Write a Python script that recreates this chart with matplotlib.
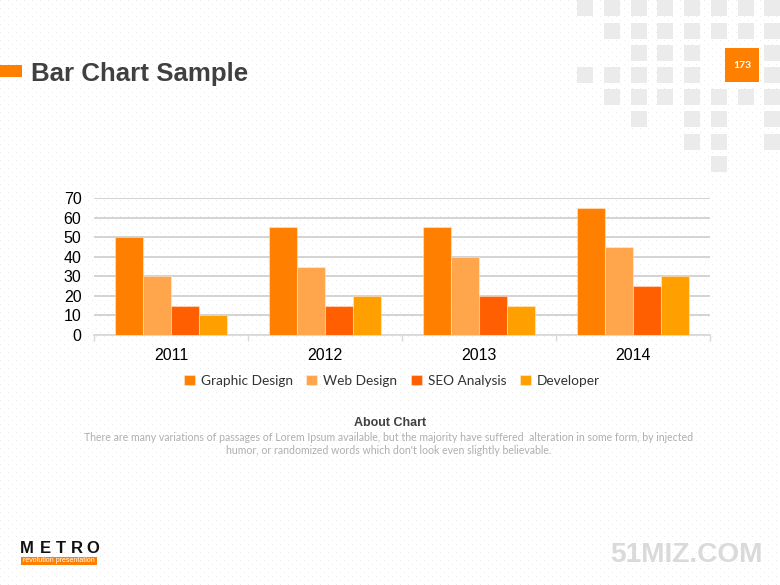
import numpy as np
import matplotlib
matplotlib.use("Agg")
import matplotlib.pyplot as plt
from matplotlib.patches import Rectangle

# ---- data ----
years = ["2011", "2012", "2013", "2014"]
series_names = ["Graphic Design", "Web Design", "SEO Analysis", "Developer"]
graphic_design = [50, 55, 55, 65]
web_design = [30, 35, 40, 45]
seo_analysis = [15, 15, 20, 25]
developer = [10, 20, 15, 30]
y_ticks = [0, 10, 20, 30, 40, 50, 60, 70]
colors = ["#FF8000", "#FFA54C", "#FF5F00", "#FFA000"]

W, H = 780, 585
fig = plt.figure(figsize=(W / 100, H / 100), dpi=100)
fig.patch.set_facecolor("white")

# dotted background texture
bg = np.ones((H, W, 3))
yy, xx = np.mgrid[0:H, 0:W]
mask = ((yy % 8 == 0) & (xx % 8 == 0)) | ((yy % 8 == 4) & (xx % 8 == 4))
bg[mask] = 0.92
fig.figimage(bg, xo=0, yo=0, zorder=0)

def px(x, y):
    return x / W, 1 - y / H

# decorative grey square grid (top-right)
grid_pattern = [
    [0, 1, 2, 3, 4, 5, 6, 7],
    [1, 2, 3, 4, 5, 6, 7],
    [2, 3, 4, 7],
    [0, 1, 2, 3, 4, 7],
    [1, 2, 3, 4, 5, 6, 7],
    [2, 4, 5, 7],
    [4, 5, 7],
    [5],
]
col_x = [577, 604, 631, 657, 684, 711, 738, 764]
row_y = [0, 23, 45, 67, 89, 111, 134, 156]
for r, cols in enumerate(grid_pattern):
    for c in cols:
        x0, y1 = px(col_x[c], row_y[r] + 16)
        fig.add_artist(Rectangle((x0, y1), 16 / W, 16 / H, transform=fig.transFigure,
                                 facecolor="#EBEBEB", edgecolor="none", zorder=1))

# orange page number box
x0, y1 = px(725, 82)
fig.add_artist(Rectangle((x0, y1), 34 / W, 34 / H, transform=fig.transFigure,
                         facecolor="#FF8000", edgecolor="none", zorder=2))
fig.text(*px(742, 66), "173", color="white", fontsize=7.5, fontweight="bold",
         ha="center", va="center", family="Lato", zorder=3)

# title
x0, y1 = px(0, 77)
fig.add_artist(Rectangle((x0, y1), 22 / W, 12 / H, transform=fig.transFigure,
                         facecolor="#FF8000", edgecolor="none", zorder=2))
fig.text(*px(31, 74.5), "Bar Chart Sample", fontsize=18.6, fontweight="bold",
         color="#404040", family="Liberation Sans", ha="left", va="center")

# ---- chart ----
ax = fig.add_axes([94 / W, 1 - 335 / H, (710 - 94) / W, (335 - 198) / H])
ax.set_facecolor("none")
ax.set_zorder(2)
x = np.arange(len(years))
bw = 28 / 154
data = [graphic_design, web_design, seo_analysis, developer]
for i, (vals, name, col) in enumerate(zip(data, series_names, colors)):
    ax.bar(x + (i - 1.5) * bw, vals, width=bw, color=col, label=name,
           edgecolor=(1, 1, 1, 0.35), linewidth=0.8, zorder=3)

ax.set_xlim(-0.5, len(years) - 0.5)
ax.set_ylim(0, 70)
ax.set_yticks(y_ticks)
ax.yaxis.grid(True, color="#D0D0D0", linewidth=1.3, zorder=0)
ax.set_axisbelow(True)
for s in ["top", "right", "left"]:
    ax.spines[s].set_visible(False)
ax.spines["bottom"].set_color("#D9D9D9")
ax.spines["bottom"].set_linewidth(1.3)
ax.set_xticks(x)
ax.set_xticklabels(years, family="Liberation Sans", fontsize=11.5, color="#000000")
ax.set_xticks(np.arange(-0.5, len(years), 1.0), minor=True)
ax.tick_params(axis="x", which="major", length=0, pad=9)
ax.tick_params(axis="x", which="minor", length=4, color="#D9D9D9", width=1)
ax.tick_params(axis="y", length=0, pad=9, labelsize=11.5)
for lbl in ax.get_yticklabels():
    lbl.set_family("Liberation Sans")

leg = fig.legend(loc="center", bbox_to_anchor=(px(392, 381)), ncol=4, frameon=False,
                 handlelength=0.8, handleheight=0.8, handletextpad=0.45,
                 columnspacing=1.0, prop={"family": "Lato", "size": 9.8})
for t in leg.get_texts():
    t.set_color("#333333")

# about chart text
fig.text(*px(390, 423), "About Chart", fontsize=9, fontweight="bold", color="#404040",
         family="Liberation Sans", ha="center", va="center")
fig.text(*px(389, 444),
         "There are many variations of passages of Lorem Ipsum available, but the majority have suffered  alteration in some form, by injected\n"
         "humor, or randomized words which don't look even slightly believable.",
         fontsize=7.6, color="#AFAFAF", family="Lato", ha="center", va="center",
         linespacing=1.25)

# footer logo
for letter, cx in zip("METRO", [27, 45, 61, 77, 93]):
    fig.text(*px(cx, 548.5), letter, fontsize=12, fontweight="bold", color="#111111",
             family="Liberation Sans", ha="center", va="center")
x0, y1 = px(21, 565)
fig.add_artist(Rectangle((x0, y1), 76 / W, 8.5 / H, transform=fig.transFigure,
                         facecolor="#FF8000", edgecolor="none", zorder=2))
fig.text(*px(59, 560.8), "revolution presentation", fontsize=5.0, color="white",
         family="Liberation Sans", ha="center", va="center", zorder=3)
fig.text(*px(763, 554.5), "51MIZ.COM", fontsize=20.2, fontweight="bold", color="#DADADA",
         family="Liberation Sans", ha="right", va="center")

fig.savefig("out.png", dpi=100)
